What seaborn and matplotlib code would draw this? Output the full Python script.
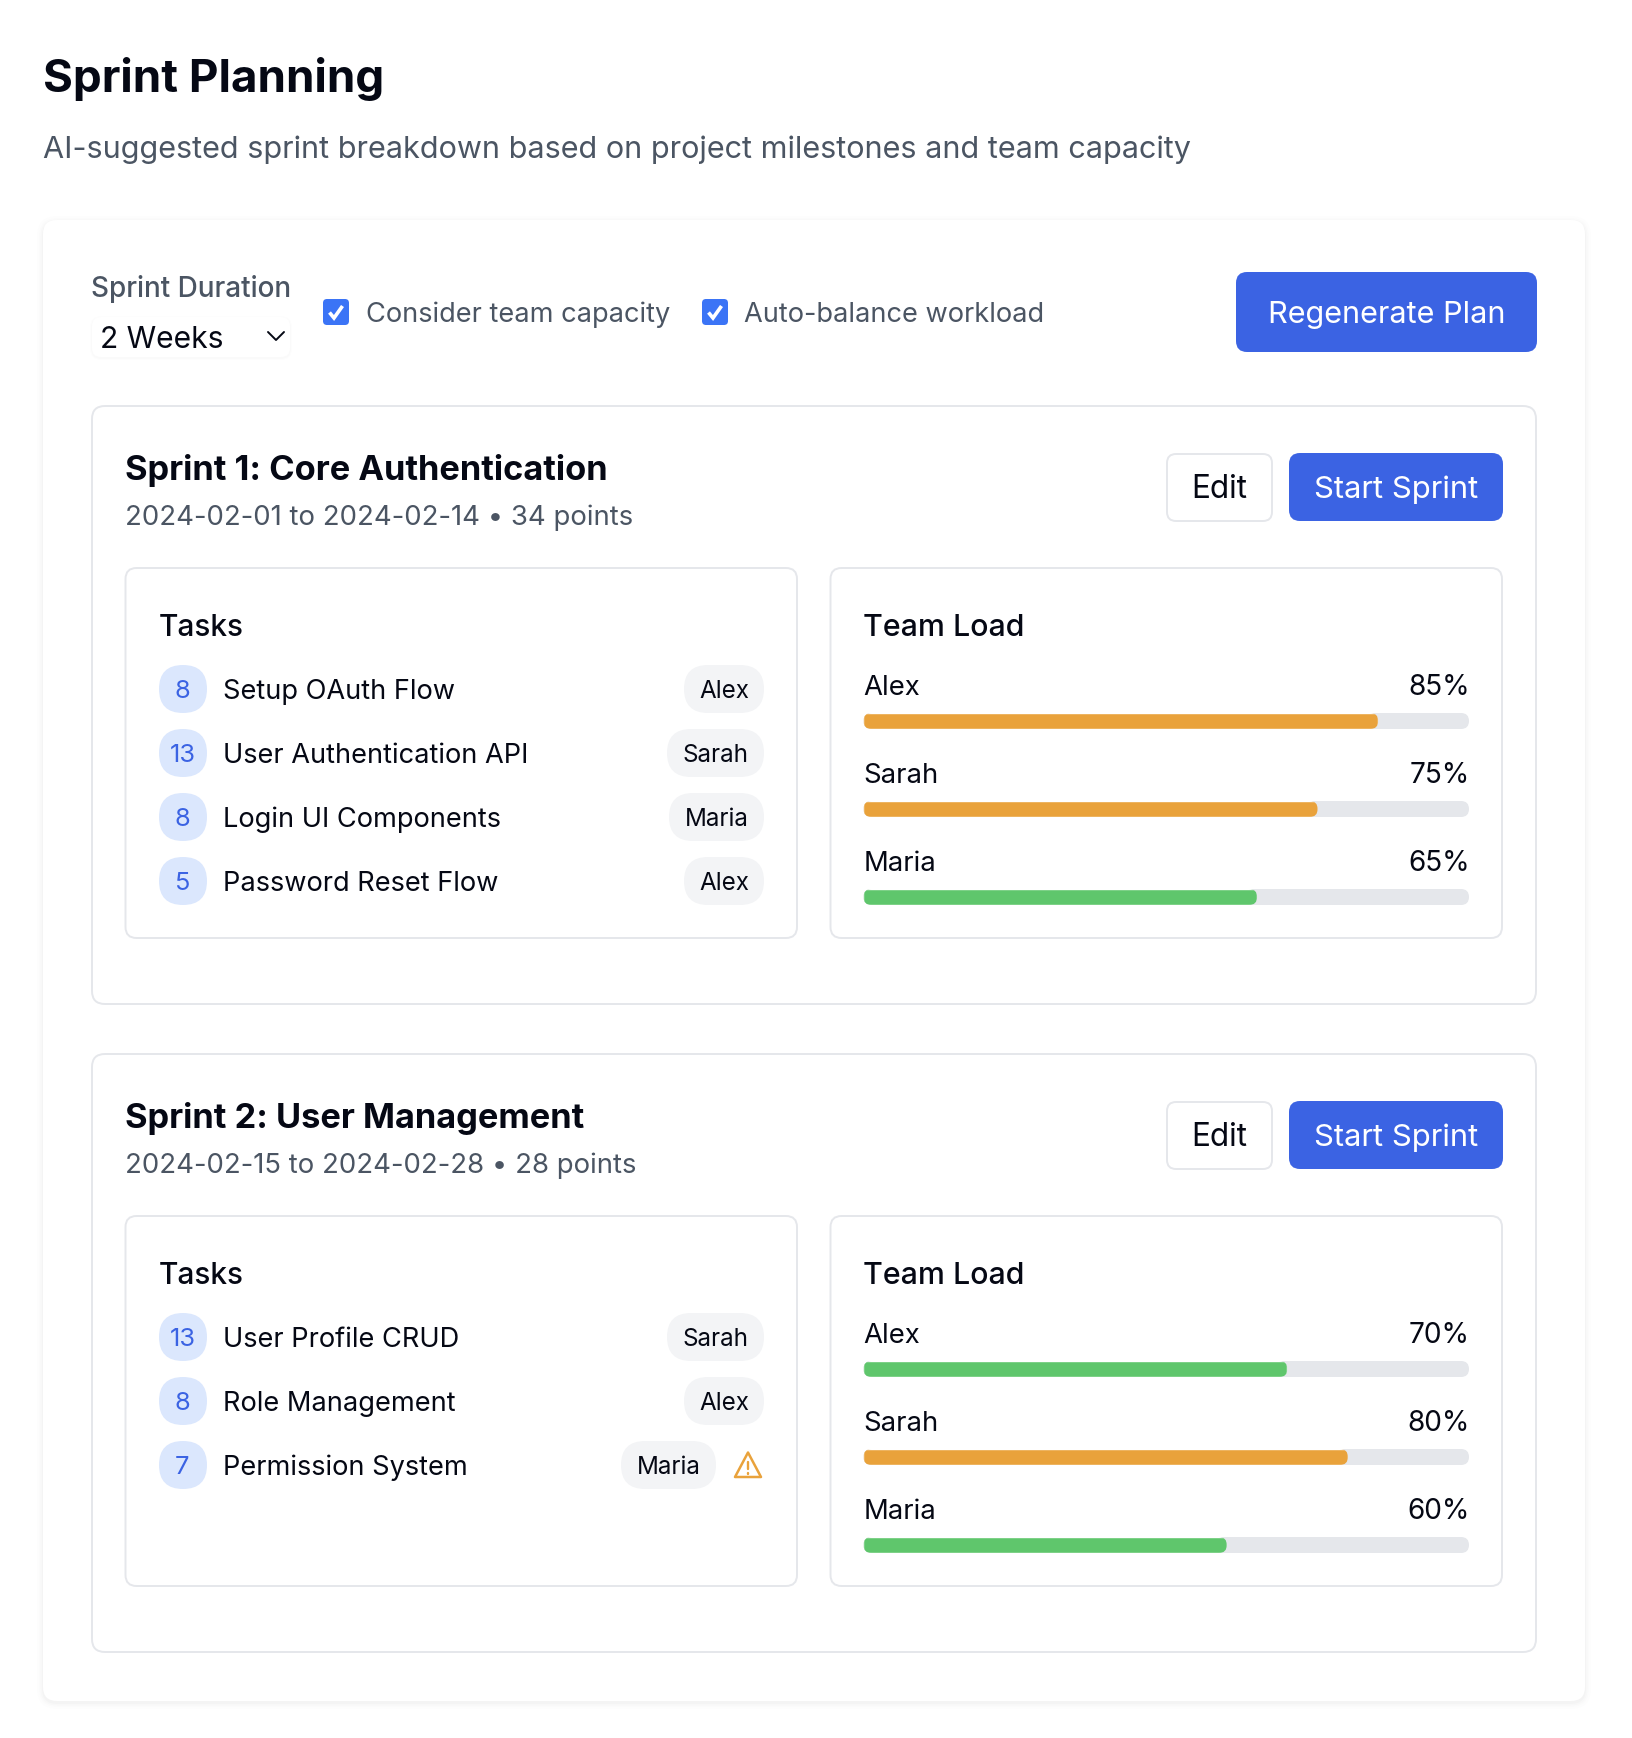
import matplotlib
matplotlib.use("Agg")
import matplotlib.pyplot as plt
import seaborn as sns
import pandas as pd
from matplotlib.patches import FancyBboxPatch, Polygon
from matplotlib.transforms import IdentityTransform

sns.set_theme(style="white")
plt.rcParams['font.family'] = ['Inter', 'DejaVu Sans']

# ---- data ----
page_title = "Sprint Planning"
page_subtitle = "AI-suggested sprint breakdown based on project milestones and team capacity"
duration_label = "Sprint Duration"
duration_value = "2 Weeks"
check_labels = ["Consider team capacity", "Auto-balance workload"]
regen_label = "Regenerate Plan"
sprint_titles = ["Sprint 1: Core Authentication", "Sprint 2: User Management"]
sprint_meta = ["2024-02-01 to 2024-02-14 • 34 points", "2024-02-15 to 2024-02-28 • 28 points"]
task_names = [["Setup OAuth Flow", "User Authentication API", "Login UI Components", "Password Reset Flow"],
              ["User Profile CRUD", "Role Management", "Permission System"]]
task_points = [[8, 13, 8, 5], [13, 8, 7]]
task_owners = [["Alex", "Sarah", "Maria", "Alex"], ["Sarah", "Alex", "Maria"]]
team_members = ["Alex", "Sarah", "Maria"]
team_load = [[85, 75, 65], [70, 80, 60]]
high_threshold = 75

# ---- colours ----
INK = "#050814"; GREY = "#4b5563"; BLUE = "#3b63e3"; CHECK = "#3b74f6"
BORDER = "#e5e7eb"; ORANGE = "#e9a23b"; GREEN = "#5fc66c"; CIRCLE = "#dbe7fd"; PILL = "#f3f4f6"

W, H = 1632, 1738
fig = plt.figure(figsize=(W / 100, H / 100), dpi=100, facecolor="white")
ui = fig.add_axes([0, 0, 1, 1], zorder=1)
ui.set_xlim(0, W); ui.set_ylim(H, 0); ui.axis("off")


def px(size):
    return size * 0.72


def box(x0, y0, x1, y1, r, fc="white", ec="none", lw=0, z=1, alpha=None, ax=ui):
    p = FancyBboxPatch((x0 + r, y0 + r), x1 - x0 - 2 * r, y1 - y0 - 2 * r,
                       boxstyle=f"round,pad={r},rounding_size={r}",
                       fc=fc, ec=ec, lw=lw, zorder=z, alpha=alpha)
    ax.add_patch(p)
    return p


def txt(x, y, s, size, color=INK, weight="normal", ha="left", z=5):
    ui.text(x, y, s, fontsize=px(size), color=color, fontweight=weight, ha=ha, va="baseline", zorder=z)


# header
txt(43, 92, page_title, 45.7, INK, "bold")
txt(43, 158, page_subtitle, 30.6, GREY)

# main card with a soft shadow
for grow, a in [(6, .006), (4, .008), (2.5, .01), (1, .014)]:
    box(43 - grow, 220 - grow + 2, 1585 + grow, 1701 + grow + 2, 14 + grow, fc="#000000", z=1, alpha=a)
box(43, 220, 1585, 1701, 14, fc="white", z=1.5)

# controls
txt(91, 297, duration_label, 27.9, GREY, "medium")
for grow, a in [(2, .008), (1, .012)]:
    box(92 - grow, 317 - grow + 1, 290 + grow, 357 + grow + 1, 9 + grow, fc="#000000", z=1.6, alpha=a)
box(92, 317, 290, 357, 9, z=1.7)
txt(99.5, 348, duration_value, 30, INK)
ui.plot([268, 276, 284], [332, 340, 332], color=INK, lw=1.4, solid_capstyle="round", solid_joinstyle="round", zorder=5)

for cx, tx, label in zip([323, 702], [365.5, 744.5], check_labels):
    box(cx, 299, cx + 26, 325, 4, fc=CHECK, z=3)
    ui.plot([cx + 6.5, cx + 11, cx + 19.5], [312.5, 318, 306], color="white", lw=2.6,
            solid_capstyle="butt", solid_joinstyle="miter", zorder=4)
    txt(tx, 322, label, 27.2, GREY)

box(1236, 272, 1537, 352, 11, fc=BLUE, z=3)
txt(1386.5, 323, regen_label, 30.6, "white", ha="center")

# sprints
OFFSET = 648
for i in range(2):
    dy = i * OFFSET
    box(92, 406 + dy, 1536, 1004 + dy, 13, ec=BORDER, lw=1.4, z=2)
    txt(125, 480 + dy, sprint_titles[i], 34.4, INK, "bold")
    txt(125, 525 + dy, sprint_meta[i], 27.5, GREY)

    box(1167, 454 + dy, 1272, 521 + dy, 9, ec=BORDER, lw=1.4, z=3)
    txt(1219, 498.5 + dy, "Edit", 31.5, INK, ha="center")
    box(1289, 453 + dy, 1503, 521 + dy, 11, fc=BLUE, z=3)
    txt(1396, 498.5 + dy, "Start Sprint", 31, "white", ha="center")

    # Tasks panel
    box(125.5, 568 + dy, 797, 938 + dy, 11, ec=BORDER, lw=1.4, z=3)
    txt(159, 636 + dy, "Tasks", 29.8, INK, "medium")
    warn = i == 1
    for j, (name, pts, owner) in enumerate(zip(task_names[i], task_points[i], task_owners[i])):
        cy = 689 + j * 64 + dy
        ui.add_patch(FancyBboxPatch((159 + 24, cy), 0, 0, boxstyle="round,pad=24,rounding_size=24",
                                    fc=CIRCLE, ec="none", zorder=4))
        txt(182.5, cy + 9.5, str(pts), 25.5, BLUE, ha="center")
        txt(223, cy + 10, name, 27.2, INK)
        right = 764
        if warn and j == 2:
            right = 716
            ui.add_patch(Polygon([(748, cy - 12.5), (761, cy + 12), (735, cy + 12)], closed=True, fc="none",
                                 ec=ORANGE, lw=1.8, joinstyle="round", zorder=5))
            ui.plot([748, 748], [cy - 3, cy + 4], color=ORANGE, lw=1.7, zorder=5)
            ui.plot([748, 748], [cy + 7.5, cy + 8.5], color=ORANGE, lw=1.7, zorder=5)
        pw = {"Alex": 80, "Sarah": 97, "Maria": 95}[owner]
        box(right - pw, cy - 24, right, cy + 24, 24, fc=PILL, z=4)
        txt(right - pw / 2, cy + 9, owner, 24.2, INK, ha="center")

    # Team panel
    box(830.5, 568 + dy, 1502, 938 + dy, 11, ec=BORDER, lw=1.4, z=3)
    txt(863, 636 + dy, "Team Load", 30.3, INK, "medium")
    df = pd.DataFrame({"member": team_members, "load": team_load[i]})
    df["level"] = ["high" if v >= high_threshold else "ok" for v in df["load"]]

    # axes in pixels: x 863.5..1469; three rows, 88 px apart, centred on 721, 809, 897
    top, bottom = 677 + dy, 941 + dy
    ax = fig.add_axes([863.5 / W, 1 - bottom / H, 605.5 / W, (bottom - top) / H], zorder=2)
    ax.patch.set_alpha(0)
    sns.barplot(data=df, x="load", y="member", hue="level", palette={"high": ORANGE, "ok": GREEN},
                order=team_members, hue_order=["high", "ok"], dodge=False, width=16 / 88, legend=False,
                saturation=1, ax=ax, zorder=3)
    ax.set_xlim(0, 100); ax.set_ylim(2.5, -0.5); ax.axis("off")
    fig.canvas.draw()
    for c in ax.containers:
        for bar in c:
            if bar.get_width() == 0 or pd.isna(bar.get_width()):
                continue
            e = bar.get_window_extent()
            clip = FancyBboxPatch((e.x0 + 8, e.y0 + 8), e.width - 16, e.height - 16,
                                  boxstyle="round,pad=8,rounding_size=8", transform=IdentityTransform())
            bar.set_clip_path(clip)
    for k, (m, v) in enumerate(zip(df["member"], df["load"])):
        cy = 721 + k * 88 + dy
        box(863.5, cy - 8, 1469, cy + 8, 8, fc=BORDER, z=4)
        txt(863.5, cy - 26, m, 27.5, INK)
        txt(1469.5, cy - 26, f"{v}%", 28, INK, ha="right")

fig.savefig("out.png", dpi=100, facecolor="white")
